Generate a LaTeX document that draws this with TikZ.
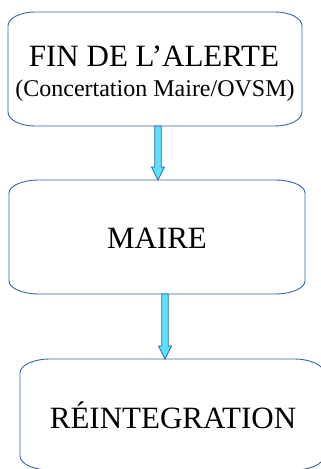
\documentclass[tikz,border=0pt]{standalone}
\usepackage{fontspec}
\setmainfont{Liberation Serif}
\usetikzlibrary{calc}
\definecolor{boxblue}{RGB}{52,101,164}
\definecolor{arrowcyan}{RGB}{90,225,255}
\tikzset{
  frame/.style={inner sep=0pt, outer sep=0pt},
  boxline/.style={draw=boxblue, line width=0.9pt},
  fatarrowstyle/.style={draw=boxblue, fill=arrowcyan, line width=0.7pt, line join=miter},
  big/.style={font=\fontsize{31}{31}\selectfont, inner sep=0pt, anchor=base},
  small/.style={font=\fontsize{24}{24}\selectfont, inner sep=0pt, anchor=base}
}
\newcommand\ebox[3]{% node, rx, ry
  \draw[boxline] ([xshift=#2]#1.north west) -- ([xshift=-#2]#1.north east)
    arc[start angle=90,end angle=0,x radius=#2,y radius=#3]
    -- ([yshift=#3]#1.south east)
    arc[start angle=0,end angle=-90,x radius=#2,y radius=#3]
    -- ([xshift=#2]#1.south west)
    arc[start angle=270,end angle=180,x radius=#2,y radius=#3]
    -- ([yshift=-#3]#1.north west)
    arc[start angle=180,end angle=90,x radius=#2,y radius=#3] -- cycle;}
\newcommand\fatarrow[2]{%
  \draw[fatarrowstyle] let \p1=(#1), \p2=(#2) in
    (\x1-3.2pt,\y1) -- (\x1-3.2pt,\y2+13pt) -- (\x1-6.5pt,\y2+13pt) -- (\x1,\y2)
    -- (\x1+6.5pt,\y2+13pt) -- (\x1+3.2pt,\y2+13pt) -- (\x1+3.2pt,\y1) -- cycle;}
\begin{document}
\begin{tikzpicture}[x=1pt,y=1pt]
\useasboundingbox (0,0) rectangle (321,469);
\clip (0,0) rectangle (321,469);
\node[frame, minimum width=294pt, minimum height=114pt] (fin) at (155,400) {};
\node[frame, minimum width=296pt, minimum height=114pt] (maire) at (157,232) {};
\node[frame, minimum width=304pt, minimum height=111pt] (reint) at (172,54.5) {};
\ebox{fin}{27pt}{14pt}
\ebox{maire}{30pt}{13pt}
\ebox{reint}{30pt}{14pt}
\node[big] (t1) at (154,402.3) {FIN DE L’ALERTE};
\node[small] (t2) at (155,372.3) {(Concertation Maire/OVSM)};
\node[big] (t3) at (157,220) {MAIRE};
\node[big] (t4) at (173,41) {RÉINTEGRATION};
\coordinate (s1) at ([xshift=3pt]fin.south);
\coordinate (e1) at ([xshift=1pt]maire.north);
\coordinate (s2) at ([xshift=8pt]maire.south);
\coordinate (e2) at ([xshift=-7pt]reint.north);
\fatarrow{s1}{e1}
\fatarrow{s2}{e2}
\end{tikzpicture}
\end{document}
